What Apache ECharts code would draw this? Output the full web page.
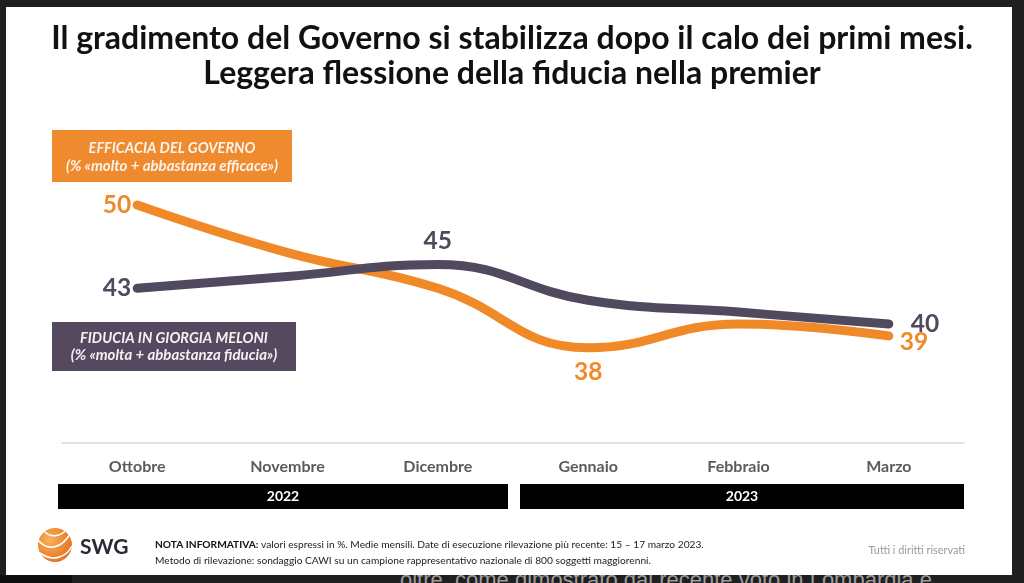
<!DOCTYPE html>
<html><head><meta charset="utf-8">
<script src="https://cdn.jsdelivr.net/npm/echarts@6/dist/echarts.min.js"></script>
<style>
html,body{margin:0;padding:0;background:#1f1f1f;width:1024px;height:583px;overflow:hidden;}
#bl{position:absolute;left:0;top:575px;width:72px;height:8px;background:#0e0e0e;}
#bgtext{position:absolute;left:400px;top:569px;font:22px/22px 'Liberation Sans',sans-serif;color:#9c9c9c;white-space:nowrap;}
#panel{position:absolute;left:6px;top:7px;width:1006px;height:568px;background:#ffffff;}
#chart{position:absolute;left:0;top:0;width:1024px;height:583px;}
</style></head><body>
<div id="bl"></div>
<div id="bgtext">oltre, come dimostrato dal recente voto in Lombardia e</div>
<div id="panel"></div>
<div id="chart"></div>
<script>
// ---- data ----
const months = ['Ottobre','Novembre','Dicembre','Gennaio','Febbraio','Marzo'];
const years = ['2022','2023'];
const monthsPerYear = [3, 3];
const efficacia = [50, 46, 43, 38, 40, 39];
const fiducia = [43, 44, 45, 42, 41, 40];
const titleLines = ['Il gradimento del Governo si stabilizza dopo il calo dei primi mesi.', 'Leggera flessione della fiducia nella premier'];
const legendEff = ['EFFICACIA DEL GOVERNO', '(% «molto + abbastanza efficace»)'];
const legendFid = ['FIDUCIA IN GIORGIA MELONI', '(% «molta + abbastanza fiducia»)'];

// ---- styles ----
const ORANGE = '#F08A28';
const GREY = '#51495D';
const GRID_L = 62, GRID_R = 60, GRID_T = 205, GRID_B = 140;
const W = 1024;
const band = (W - GRID_L - GRID_R) / months.length;

const effLabels = {
  0: {position: 'left', distance: 5},
  3: {position: 'bottom', distance: 11},
  5: {position: 'right', distance: 10, offset: [0, 6]}
};
const fidLabels = {
  0: {position: 'left', distance: 5},
  2: {position: 'top', distance: 10},
  5: {position: 'right', distance: 21}
};
function build(vals, labels, color) {
  return vals.map((v, i) => {
    const l = labels[i];
    if (!l) return {value: v, label: {show: false}};
    return {value: v, label: Object.assign({show: true, color: color, fontSize: 24.5, fontWeight: 'bold', fontFamily: 'Lato'}, l)};
  });
}

// year bars
const yearGraphics = [];
let start = 0;
years.forEach((y, k) => {
  const n = monthsPerYear[k];
  const x0 = GRID_L + start * band + (k === 0 ? -4 : 7);
  const x1 = GRID_L + (start + n) * band + (k === 0 ? -5 : 0);
  yearGraphics.push({
    type: 'rect', shape: {x: x0, y: 484, width: x1 - x0, height: 25},
    style: {fill: '#000000'}, z: 5
  });
  yearGraphics.push({
    type: 'text', x: (x0 + x1) / 2, y: 496.5,
    style: {text: y, fill: '#ffffff', font: 'bold 14px Lato', textAlign: 'center', textVerticalAlign: 'middle'}, z: 6
  });
  start += n;
});

const chart = echarts.init(document.getElementById('chart'), null, {renderer: 'canvas'});
chart.setOption({
  backgroundColor: 'transparent',
  animation: false,
  title: [
    {text: titleLines[0], left: 'center', top: 18, textStyle: {fontFamily: 'Lato', fontWeight: 'bold', fontSize: 32, color: '#111111'}},
    {text: titleLines[1], left: 'center', top: 53, textStyle: {fontFamily: 'Lato', fontWeight: 'bold', fontSize: 32, color: '#111111'}}
  ],
  grid: {left: GRID_L, right: GRID_R, top: GRID_T, bottom: GRID_B, outerBoundsMode: 'none', containLabel: false},
  xAxis: {
    type: 'category', data: months, boundaryGap: true,
    axisLine: {lineStyle: {color: '#e4e4e4', width: 2}},
    axisTick: {show: false},
    axisLabel: {color: '#5b5b5b', fontFamily: 'Lato', fontWeight: 'bold', fontSize: 16, margin: 16},
    splitLine: {show: false}
  },
  yAxis: {type: 'value', min: 30, max: 50, show: false, splitLine: {show: false}},
  series: [
    {
      name: 'Efficacia del Governo', type: 'line', smooth: 0.45, clip: false, z: 3,
      data: build(efficacia, effLabels, ORANGE),
      symbol: 'circle', symbolSize: 2, showSymbol: true, itemStyle: {color: ORANGE},
      lineStyle: {color: ORANGE, width: 9, cap: 'round', join: 'round'}
    },
    {
      name: 'Fiducia in Giorgia Meloni', type: 'line', smooth: 0.45, clip: false, z: 4,
      data: build(fiducia, fidLabels, GREY),
      symbol: 'circle', symbolSize: 2, showSymbol: true, itemStyle: {color: GREY},
      lineStyle: {color: GREY, width: 9, cap: 'round', join: 'round'}
    }
  ],
  graphic: [
    {type: 'rect', shape: {x: 52, y: 130, width: 240, height: 52}, style: {fill: '#EF8A2F'}, z: 5},
    {type: 'text', x: 172, y: 148, style: {text: legendEff[0], fill: '#fbf3ea', font: 'italic bold 14.5px Lato', textAlign: 'center', textVerticalAlign: 'middle'}, z: 6},
    {type: 'text', x: 172, y: 166, style: {text: legendEff[1], fill: '#fbf3ea', font: 'italic bold 15px Lato', textAlign: 'center', textVerticalAlign: 'middle'}, z: 6},
    {type: 'rect', shape: {x: 52, y: 322, width: 244, height: 49}, style: {fill: '#54495E'}, z: 5},
    {type: 'text', x: 174, y: 338, style: {text: legendFid[0], fill: '#f3f1f4', font: 'italic bold 14.5px Lato', textAlign: 'center', textVerticalAlign: 'middle'}, z: 6},
    {type: 'text', x: 174, y: 355, style: {text: legendFid[1], fill: '#f3f1f4', font: 'italic bold 15px Lato', textAlign: 'center', textVerticalAlign: 'middle'}, z: 6},
    ...yearGraphics,
    // logo
    {type: 'circle', shape: {cx: 55, cy: 545, r: 17}, z: 5,
      style: {fill: new echarts.graphic.RadialGradient(0.35, 0.35, 0.8, [{offset: 0, color: '#F9B15A'}, {offset: 1, color: '#E2691A'}])}},
    {type: 'bezierCurve', shape: {x1: 38, y1: 540, x2: 70, y2: 534, cpx1: 48, cpy1: 552, cpx2: 62, cpy2: 548}, style: {stroke: '#ffffff', lineWidth: 1.6, fill: null}, z: 6},
    {type: 'bezierCurve', shape: {x1: 40, y1: 553, x2: 72, y2: 546, cpx1: 52, cpy1: 562, cpx2: 66, cpy2: 558}, style: {stroke: '#ffffff', lineWidth: 1.6, fill: null}, z: 6},
    {type: 'bezierCurve', shape: {x1: 44, y1: 531, x2: 66, y2: 530, cpx1: 50, cpy1: 538, cpx2: 60, cpy2: 537}, style: {stroke: '#ffffff', lineWidth: 1.4, fill: null}, z: 6},
    {type: 'text', x: 80, y: 547, style: {text: 'SWG', fill: '#2a2a36', font: 'bold 21px Lato', textVerticalAlign: 'middle'}, z: 6},
    {type: 'text', x: 155, y: 545, z: 6, style: {
      text: '{b|NOTA INFORMATIVA:} valori espressi in %. Medie mensili. Date di esecuzione rilevazione più recente: 15 – 17 marzo 2023.',
      font: '10.2px Lato', fill: '#222222', textVerticalAlign: 'middle',
      rich: {b: {fontWeight: 'bold', fontSize: 10.2, fontFamily: 'Lato', fill: '#111111'}}
    }},
    {type: 'text', x: 155, y: 561, z: 6, style: {
      text: 'Metodo di rilevazione: sondaggio CAWI su un campione rappresentativo nazionale di 800 soggetti maggiorenni.',
      font: '10.2px Lato', fill: '#222222', textVerticalAlign: 'middle'
    }},
    {type: 'text', x: 965, y: 550, z: 6, style: {text: 'Tutti i diritti riservati', font: '10.9px Lato', fill: '#9a9a9a', textAlign: 'right', textVerticalAlign: 'middle'}}
  ]
});
</script>
</body></html>
